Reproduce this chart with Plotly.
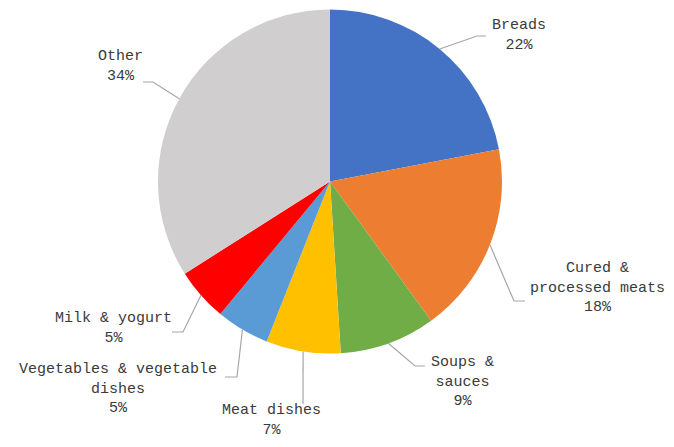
import math
import plotly.graph_objects as go

# ---- data ----
categories = ["Breads", "Cured & processed meats", "Soups & sauces", "Meat dishes",
              "Vegetables & vegetable dishes", "Milk & yogurt", "Other"]
label_text = ["Breads", "Cured &<br>processed meats", "Soups &<br>sauces", "Meat dishes",
              "Vegetables & vegetable<br>dishes", "Milk & yogurt", "Other"]
shares = [22, 18, 9, 7, 5, 5, 34]
colors = ["#4472C4", "#ED7D31", "#70AD47", "#FFC000", "#5B9BD5", "#FF0000", "#D0CECE"]

# ---- layout / style (page pixels; page body has an 8px margin) ----
PW, PH = 674, 447
OFF = 8
W, H = PW - 2 * OFF, PH - 2 * OFF
CX, CY, R = 330, 181.5, 172
# label centre (x, y), leader elbow (x, y) and leader end x for each slice
label_pos = [(519, 36), (597, 288), (462, 382), (271, 420), (118, 389), (113, 328), (120, 66)]
elbows = [(477, 36), (514, 301), (415, 366), (303, 404), (237, 377), (183, 332), (153, 82)]
ends_x = [486, 525, 425, 303, 225, 172, 143]


def fx(px):
    return (px - OFF) / W


def fy(py):
    return 1 - (py - OFF) / H


fig = go.Figure()
fig.add_trace(go.Pie(
    labels=categories, values=shares, sort=False, direction="clockwise", rotation=0,
    marker=dict(colors=colors, line=dict(width=0)),
    textinfo="none", hoverinfo="label+percent", showlegend=False,
    domain=dict(x=[fx(CX - R), fx(CX + R)], y=[fy(CY + R), fy(CY - R)]),
))

total = sum(shares)
cum = 0
shapes, annotations = [], []
for i, v in enumerate(shares):
    mid = (cum + v / 2) / total * 2 * math.pi
    cum += v
    ex = CX + R * math.sin(mid)
    ey = CY - R * math.cos(mid)
    bx, by = elbows[i]
    path = f"M {fx(ex)} {fy(ey)} L {fx(bx)} {fy(by)} L {fx(ends_x[i])} {fy(by)}"
    shapes.append(dict(type="path", xref="paper", yref="paper", path=path,
                       line=dict(color="#A6A6A6", width=1.2)))
    lx, ly = label_pos[i]
    annotations.append(dict(
        x=fx(lx), y=fy(ly), xref="paper", yref="paper", showarrow=False,
        text=f"{label_text[i]}<br>{round(v / total * 100)}%",
        align="center", xanchor="center", yanchor="middle",
        font=dict(family="Liberation Mono, Courier New, monospace", size=15, color="#3A3A3A"),
    ))

fig.update_layout(
    width=W, height=H, margin=dict(l=0, r=0, t=0, b=0),
    paper_bgcolor="white", plot_bgcolor="white",
    shapes=shapes, annotations=annotations,
)
fig.write_html("out.html")
